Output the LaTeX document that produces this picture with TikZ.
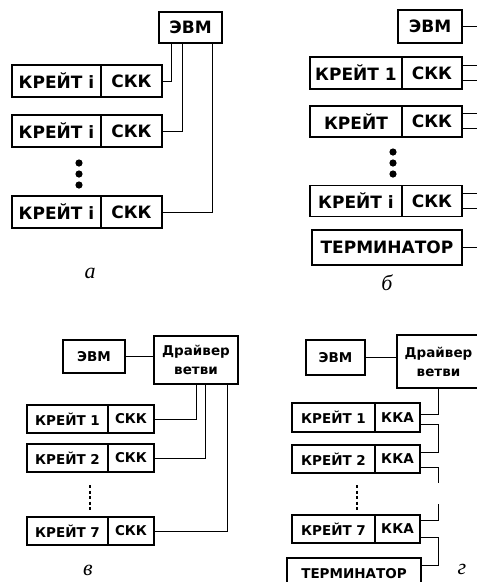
\documentclass[tikz,border=0pt]{standalone}
\usepackage{fontspec}
\setmainfont{Liberation Serif}
\setsansfont{DejaVu Sans}
\usetikzlibrary{positioning, calc}

\begin{document}
\begin{tikzpicture}[x=1pt, y=-1pt,
  blk/.style={draw, line width=1.6pt, inner sep=0pt, outer sep=0pt,
    font=\sffamily\bfseries\fontsize{17}{17}\selectfont},
  blks/.style={blk, font=\sffamily\bfseries\fontsize{13.5}{19}\selectfont},
  wire/.style={line width=1pt},
  sublbl/.style={font=\itshape\fontsize{22}{22}\selectfont}]
  \useasboundingbox (0,0) rectangle (477,582);

  % Panel a: each crate wired to the computer
  \node[blk, minimum width=63, minimum height=31] (evmA) at (190.5,27.5) {ЭВМ};
  \node[blk, minimum width=89, minimum height=32] (ka1) at (56.5,81) {КРЕЙТ i};
  \node[blk, minimum width=61, minimum height=32, right=0pt of ka1] (sa1) {СКК};
  \node[blk, minimum width=89, minimum height=32] (ka2) at (56.5,131) {КРЕЙТ i};
  \node[blk, minimum width=61, minimum height=32, right=0pt of ka2] (sa2) {СКК};
  \node[blk, minimum width=89, minimum height=32] (ka3) at (56.5,212) {КРЕЙТ i};
  \node[blk, minimum width=61, minimum height=32, right=0pt of ka3] (sa3) {СКК};
  \foreach \y in {163,174,185}
    \fill (79,\y) circle (3.6pt);
  \draw[wire] (sa1.east) -| ($(evmA.south west)+(12,0)$);
  \draw[wire] (sa2.east) -| ($(evmA.south west)+(23,0)$);
  \draw[wire] (sa3.east) -| ($(evmA.south west)+(53,0)$);
  \node[sublbl] (la) at (90,273) {а};

  % Panel b: common bus on the right
  \node[blk, minimum width=64, minimum height=33] (evmB) at (430,26.5) {ЭВМ};
  \node[blk, minimum width=92, minimum height=32] (kb1) at (356,73) {КРЕЙТ 1};
  \node[blk, minimum width=60, minimum height=32, right=0pt of kb1] (sb1) {СКК};
  \node[blk, minimum width=92, minimum height=31] (kb2) at (356,121.5) {КРЕЙТ};
  \node[blk, minimum width=60, minimum height=31, right=0pt of kb2] (sb2) {СКК};
  \node[blk, minimum width=92, minimum height=31] (kb3) at (356,201) {КРЕЙТ i};
  \node[blk, minimum width=60, minimum height=31, right=0pt of kb3] (sb3) {СКК};
  \node[blk, minimum width=150, minimum height=35] (termB) at (387,247.5) {ТЕРМИНАТОР};
  \foreach \y in {152,163,174}
    \fill (393,\y) circle (3.6pt);
  \draw[wire] (evmB.east) -- ++(15,0);
  \foreach \n in {sb1,sb2,sb3} {
    \draw[wire] ([yshift=8pt]\n.east) -- ++(15,0);
    \draw[wire] ([yshift=-7pt]\n.east) -- ++(15,0);
  }
  \draw[wire] (termB.east) -- ++(15,0);
  \node[sublbl] (lb) at (387,283) {б};

  % Panel c: branch driver, radial wiring
  \node[blks, minimum width=62, minimum height=33] (evmC) at (94,356.5) {ЭВМ};
  \node[blks, minimum width=84, minimum height=48, align=center] (drvC) at (196,360) {Драйвер\\ветви};
  \node[blks, minimum width=81, minimum height=28] (kc1) at (67.5,419) {КРЕЙТ 1};
  \node[blks, minimum width=46, minimum height=28, right=0pt of kc1] (sc1) {СКК};
  \node[blks, minimum width=81, minimum height=28] (kc2) at (67.5,458) {КРЕЙТ 2};
  \node[blks, minimum width=46, minimum height=28, right=0pt of kc2] (sc2) {СКК};
  \node[blks, minimum width=81, minimum height=28] (kc3) at (67.5,531) {КРЕЙТ 7};
  \node[blks, minimum width=46, minimum height=28, right=0pt of kc3] (sc3) {СКК};
  \draw[wire] (evmC.east) -- (evmC.east -| drvC.west);
  \draw[line width=1.6pt, dash pattern=on 3pt off 2.5pt] (90,485) -- (90,510);
  \draw[wire] (sc1.east) -| ($(drvC.south west)+(42,0)$);
  \draw[wire] (sc2.east) -| ($(drvC.south west)+(51,0)$);
  \draw[wire] (sc3.east) -| ($(drvC.south west)+(73,0)$);
  \node[sublbl] (lc) at (88,570) {в};

  % Panel d: branch driver, daisy chain
  \node[blks, minimum width=59, minimum height=35] (evmD) at (335.5,357.5) {ЭВМ};
  \node[blks, minimum width=83, minimum height=53, align=center] (drvD) at (438.5,361.5) {Драйвер\\ветви};
  \node[blks, minimum width=83, minimum height=29] (kd1) at (333.5,417.5) {КРЕЙТ 1};
  \node[blks, minimum width=45, minimum height=29, right=0pt of kd1] (sd1) {ККА};
  \node[blks, minimum width=83, minimum height=28] (kd2) at (333.5,459) {КРЕЙТ 2};
  \node[blks, minimum width=45, minimum height=28, right=0pt of kd2] (sd2) {ККА};
  \node[blks, minimum width=83, minimum height=28] (kd3) at (333.5,529) {КРЕЙТ 7};
  \node[blks, minimum width=45, minimum height=28, right=0pt of kd3] (sd3) {ККА};
  \node[blks, minimum width=134, minimum height=32] (termD) at (354,574) {ТЕРМИНАТОР};
  \draw[wire] (evmD.east) -- (evmD.east -| drvD.west);
  \draw[line width=1.6pt, dash pattern=on 3pt off 2.5pt] (357,485) -- (357,510);
  \draw[wire] (drvD.south) |- ([yshift=3pt]sd1.east);
  \draw[wire] ([yshift=-7pt]sd1.east) -- ++(18,0) |- ([yshift=7pt]sd2.east);
  \draw[wire] ([yshift=-8pt]sd2.east) -- ++(18,0) -- ++(0,16);
  \draw[wire] ([yshift=9pt]sd3.east) -- ++(18,0) -- ++(0,-16);
  \draw[wire] ([yshift=-8pt]sd3.east) -- ++(18,0) |- ([yshift=9pt]termD.east);
  \node[sublbl] (ld) at (462,569) {г};
\end{tikzpicture}
\end{document}
